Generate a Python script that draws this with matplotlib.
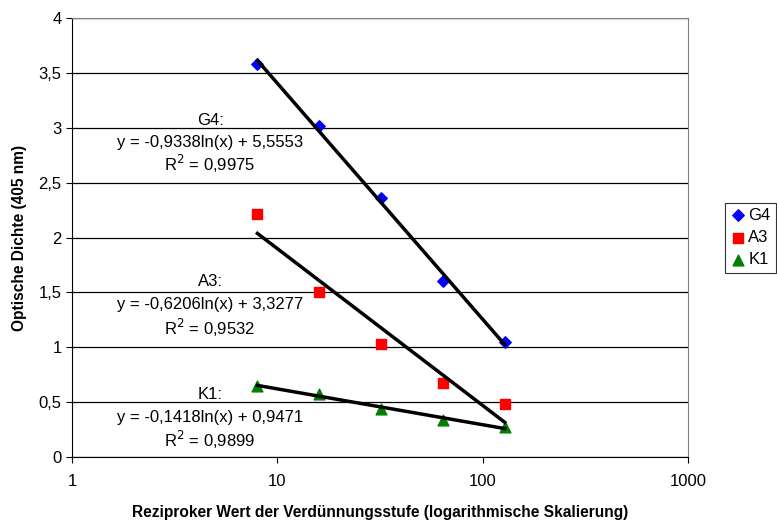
import matplotlib.pyplot as plt
import numpy as np

plt.rcParams['font.family'] = ['Liberation Sans', 'DejaVu Sans']

verduennung = [8, 16, 32, 64, 128]
g4 = [3.58, 3.02, 2.36, 1.60, 1.05]
a3 = [2.21, 1.50, 1.03, 0.67, 0.48]
k1 = [0.65, 0.57, 0.44, 0.34, 0.27]

# Trendlinien: y = a*ln(x) + b
trend_a = [-0.9338, -0.6206, -0.1418]
trend_b = [5.5553, 3.3277, 0.9471]
r2_werte = ["0,9975", "0,9532", "0,9899"]
namen = ["G4", "A3", "K1"]

fig = plt.figure(figsize=(7.77, 5.2), dpi=100)
ax = fig.add_axes([72 / 777, 63 / 520, 616 / 777, 439 / 520])

ax.set_xscale('log')
ax.set_xlim(1, 1000)
ax.set_ylim(0, 4)
ax.set_yticks(np.arange(0, 4.01, 0.5))
ax.set_yticklabels(["0", "0,5", "1", "1,5", "2", "2,5", "3", "3,5", "4"])
ax.set_xticks([1, 10, 100, 1000])
ax.set_xticklabels(["1", "10", "100", "1000"])
ax.minorticks_off()
ax.grid(axis='y', color='black', linewidth=0.9)
ax.set_axisbelow(True)
ax.tick_params(labelsize=12, length=4, direction='out', color='black')
ax.tick_params(axis='x', pad=8)

for s in ['top', 'right']:
    ax.spines[s].set_color('#808080')
for s in ['left', 'bottom']:
    ax.spines[s].set_color('black')

ax.scatter(verduennung, g4, marker='D', s=34, color='#0000ff', label='G4', zorder=3)
ax.scatter(verduennung, a3, marker='s', s=55, color='#ff0000', label='A3', zorder=3)
ax.scatter(verduennung, k1, marker='^', s=60, color='#008000', label='K1', zorder=3)

for a, b in zip(trend_a, trend_b):
    xx = np.geomspace(verduennung[0], verduennung[-1], 50)
    ax.plot(xx, a * np.log(xx) + b, color='black', linewidth=2.5, zorder=4)

# Beschriftungen der Trendlinien (Name, Gleichung, R²)
text_y = [(3.07, 2.87, 2.67), (1.595, 1.385, 1.175), (0.565, 0.364, 0.155)]
for name, a, b, r2, (y1, y2, y3) in zip(namen, trend_a, trend_b, r2_werte, text_y):
    a_str = f"{a:.4f}".replace('.', ',')
    b_str = f"{b:.4f}".replace('.', ',')
    ax.text(4.7, y1, name + ":", ha='center', va='center', fontsize=12, zorder=5)
    ax.text(4.7, y2, f"y = {a_str}ln(x) + {b_str}", ha='center', va='center',
            fontsize=12, zorder=5)
    ax.text(4.7, y3, f"R$^2$ = {r2}", ha='center', va='center', fontsize=12, zorder=5)

ax.set_xlabel("Reziproker Wert der Verdünnungsstufe (logarithmische Skalierung)",
              fontsize=11.2, fontweight='bold', labelpad=12)
ax.set_ylabel("Optische Dichte (405 nm)", fontsize=11.2, fontweight='bold', labelpad=8)

leg = ax.legend(loc='center left', bbox_to_anchor=(1.06, 0.5), frameon=True, fancybox=False,
                edgecolor='black', fontsize=12, handletextpad=0.1, borderpad=0.3,
                labelspacing=0.45, handlelength=1.0, borderaxespad=0)
leg.get_frame().set_linewidth(0.8)

fig.savefig("out.png", dpi=100)
